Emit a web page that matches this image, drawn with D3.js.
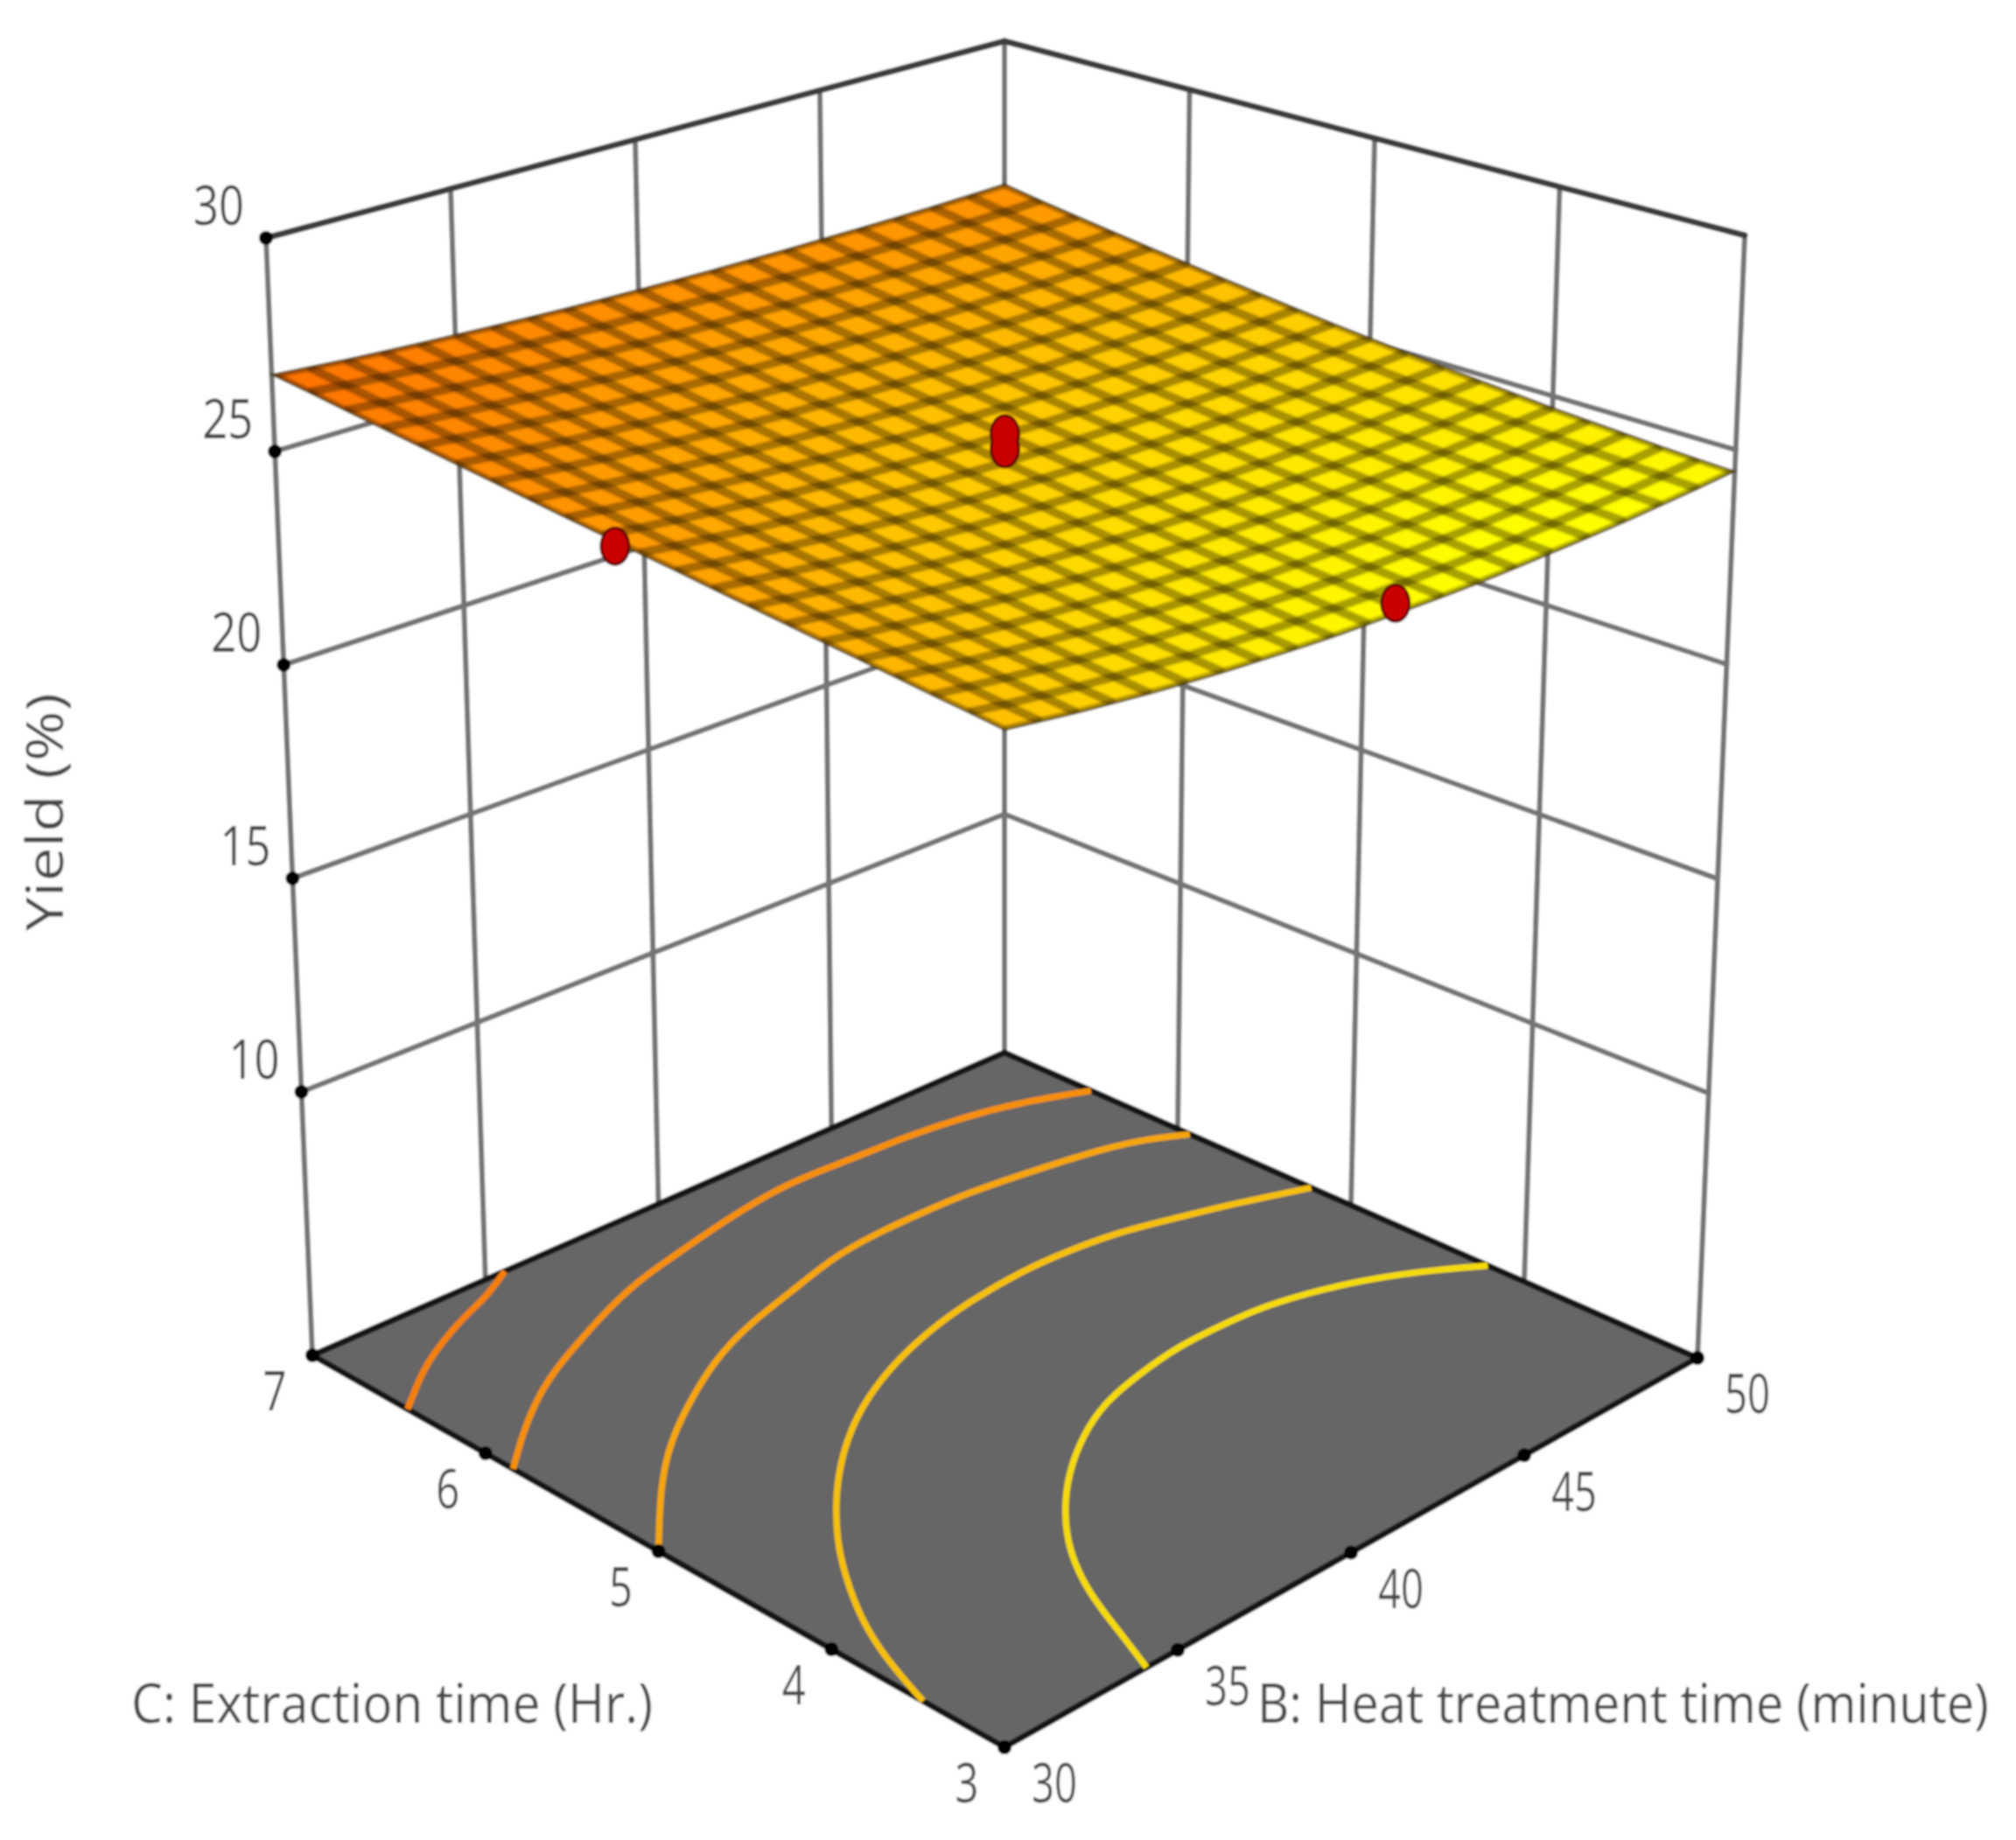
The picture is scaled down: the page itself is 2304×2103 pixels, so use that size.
<!DOCTYPE html>
<html>
<head>
<meta charset="utf-8">
<script src="https://cdn.jsdelivr.net/npm/d3@7"></script>
<style>
  body { margin: 0; background: #fff; }
  text { font-family: "Open Sans", sans-serif; font-weight: 500; fill: #484848; }
</style>
</head>
<body>
<div id="chart"></div>
<script>
// axis ticks
var bTicks = [30, 35, 40, 45, 50];
var cTicks = [3, 4, 5, 6, 7];
var zTicks = [10, 15, 20, 25, 30];
var zBottom = 3.83;

// Yield (%), one row per C step (3 to 7), one column per B step (30 to 50)
var yieldGrid = [
  [25.50,25.36,25.22,25.10,24.98,24.88,24.78,24.70,24.62,24.55,24.50,24.46,24.42,24.39,24.38,24.38,24.38,24.39,24.42,24.45,24.50],
  [25.56,25.41,25.28,25.15,25.04,24.94,24.84,24.76,24.68,24.61,24.56,24.51,24.48,24.45,24.43,24.42,24.43,24.44,24.46,24.49,24.53],
  [25.61,25.47,25.34,25.22,25.10,25.00,24.90,24.82,24.74,24.68,24.62,24.57,24.53,24.51,24.49,24.48,24.48,24.49,24.51,24.53,24.57],
  [25.67,25.53,25.40,25.28,25.17,25.06,24.97,24.88,24.81,24.74,24.68,24.64,24.60,24.57,24.55,24.54,24.53,24.54,24.56,24.58,24.62],
  [25.73,25.59,25.46,25.34,25.23,25.13,25.04,24.95,24.88,24.81,24.75,24.70,24.66,24.63,24.61,24.60,24.60,24.60,24.61,24.64,24.67],
  [25.79,25.65,25.53,25.41,25.30,25.20,25.11,25.02,24.95,24.88,24.82,24.78,24.74,24.70,24.68,24.67,24.66,24.66,24.68,24.70,24.72],
  [25.85,25.72,25.59,25.48,25.37,25.27,25.18,25.10,25.02,24.96,24.90,24.85,24.81,24.78,24.76,24.74,24.73,24.73,24.74,24.76,24.79],
  [25.91,25.78,25.66,25.55,25.44,25.34,25.25,25.17,25.10,25.04,24.98,24.93,24.89,24.86,24.83,24.82,24.81,24.81,24.82,24.83,24.86],
  [25.97,25.85,25.73,25.62,25.51,25.42,25.33,25.25,25.18,25.12,25.06,25.01,24.97,24.94,24.92,24.90,24.89,24.89,24.90,24.91,24.93],
  [26.04,25.91,25.80,25.69,25.59,25.50,25.41,25.33,25.26,25.20,25.15,25.10,25.06,25.03,25.00,24.99,24.98,24.97,24.98,24.99,25.01],
  [26.10,25.98,25.87,25.76,25.67,25.58,25.49,25.42,25.35,25.29,25.23,25.19,25.15,25.12,25.09,25.08,25.07,25.06,25.07,25.08,25.10],
  [26.17,26.05,25.94,25.84,25.75,25.66,25.58,25.50,25.44,25.38,25.33,25.28,25.24,25.21,25.19,25.17,25.16,25.16,25.16,25.17,25.19],
  [26.23,26.12,26.02,25.92,25.83,25.74,25.67,25.59,25.53,25.47,25.42,25.38,25.34,25.31,25.29,25.27,25.26,25.26,25.26,25.27,25.29],
  [26.30,26.19,26.09,26.00,25.91,25.83,25.75,25.69,25.63,25.57,25.52,25.48,25.44,25.42,25.39,25.38,25.37,25.37,25.37,25.38,25.40],
  [26.37,26.27,26.17,26.08,26.00,25.92,25.85,25.78,25.72,25.67,25.62,25.58,25.55,25.52,25.50,25.49,25.48,25.48,25.48,25.49,25.51],
  [26.44,26.34,26.25,26.16,26.08,26.01,25.94,25.88,25.82,25.77,25.73,25.69,25.66,25.64,25.62,25.60,25.59,25.59,25.60,25.61,25.63],
  [26.51,26.42,26.33,26.25,26.17,26.10,26.04,25.98,25.93,25.88,25.84,25.80,25.77,25.75,25.73,25.72,25.72,25.71,25.72,25.73,25.75],
  [26.58,26.49,26.41,26.33,26.26,26.20,26.14,26.08,26.03,25.99,25.95,25.92,25.89,25.87,25.86,25.85,25.84,25.84,25.85,25.86,25.88],
  [26.65,26.57,26.49,26.42,26.35,26.29,26.24,26.19,26.14,26.10,26.07,26.04,26.01,26.00,25.98,25.97,25.97,25.97,25.98,25.99,26.01],
  [26.73,26.65,26.58,26.51,26.45,26.39,26.34,26.30,26.25,26.22,26.19,26.16,26.14,26.12,26.11,26.11,26.11,26.11,26.12,26.13,26.15],
  [26.80,26.73,26.66,26.60,26.55,26.50,26.45,26.41,26.37,26.34,26.31,26.29,26.27,26.26,26.25,26.25,26.25,26.25,26.26,26.28,26.30]
];

// design points
var pointB = [30, 40, 40, 40.7];
var pointC = [5.13, 5, 5, 3];
var pointZ = [26.04, 25.9, 25.55, 24.73];

// contours on the floor, read as B / C pairs, inner one first
var contourLevels = [24.9, 25.4, 25.9, 26.3, 26.6];
var contourB = [
  [34.1,34.68,35.26,36.1,37.11,38.24,39.51,40.74,41.97,43.48,44.71,45.84,47.66,48.98,50],
  [30,30.54,31.24,32.18,33,34.26,35.58,37.02,38.64,40.21,41.72,43.38,44.6,46.06,47.32,48.26,50],
  [30,31.8,33.24,35,36.48,37.92,39.23,41.06,42.38,43.64,45.02,46.34,47.76,49.08,50],
  [30,31.12,32.4,33.58,34.42,35.76,37.33,38.86,40.56,42.61,44.18,45.8,47.28,48.62,50],
  [30,31.26,32,33,33.78,34.56,35.56]
];
var contourC = [
  [3,3.28,3.57,3.85,4.08,4.28,4.45,4.57,4.63,4.68,4.67,4.66,4.54,4.38,4.21],
  [3.47,3.79,4.08,4.36,4.57,4.83,5.05,5.24,5.39,5.49,5.55,5.58,5.57,5.53,5.44,5.38,5.23],
  [5,5.35,5.58,5.79,5.94,6.04,6.1,6.2,6.22,6.22,6.21,6.17,6.12,6.05,5.93],
  [5.84,6.01,6.18,6.3,6.37,6.48,6.59,6.65,6.72,6.78,6.75,6.74,6.7,6.63,6.5],
  [6.45,6.62,6.7,6.79,6.85,6.9,7]
];

var width = 2304, height = 2103;

var svg = d3.select("#chart").append("svg")
    .attr("width", width)
    .attr("height", height);

var defs = svg.append("defs");

// the reference is a soft upscaled bitmap
defs.append("filter").attr("id", "soft")
    .attr("x", 0).attr("y", 0).attr("width", 1).attr("height", 1)
    .append("feGaussianBlur").attr("stdDeviation", 1.3);
defs.append("filter").attr("id", "softer")
    .attr("filterUnits", "userSpaceOnUse")
    .attr("x", 0).attr("y", 0).attr("width", width).attr("height", height)
    .append("feGaussianBlur").attr("stdDeviation", 1.3);

var g = svg.append("g").attr("filter", "url(#soft)");
g.append("rect").attr("width", width).attr("height", height).attr("fill", "#fff");

var bScale = d3.scaleLinear().domain([30, 50]).range([0, 1]);
var cScale = d3.scaleLinear().domain([3, 7]).range([0, 1]);
var zScale = d3.scaleLinear().domain([zBottom, 30]).range([0, 1]);

// corners of the box on the page: front, right, left, back
var floorBox = [[1148, 1997], [1940, 1552], [357, 1549], [1148, 1203]];
var topBox = [[1148, 593], [1994, 269], [304, 272], [1148, 47]];

function bilinear(box, b, c, k) {
  return box[0][k]*(1-b)*(1-c) + box[1][k]*b*(1-c) + box[2][k]*(1-b)*c + box[3][k]*b*c;
}

function project(B, C, Z) {
  var b = bScale(B), c = cScale(C), h = zScale(Z);
  return [
    bilinear(floorBox, b, c, 0)*(1-h) + bilinear(topBox, b, c, 0)*h,
    bilinear(floorBox, b, c, 1)*(1-h) + bilinear(topBox, b, c, 1)*h
  ];
}

var line = d3.line();

function seg(p, q, color, w) {
  g.append("line")
      .attr("x1", p[0]).attr("y1", p[1])
      .attr("x2", q[0]).attr("y2", q[1])
      .attr("stroke", color)
      .attr("stroke-width", w)
      .attr("stroke-linecap", "round");
}

// walls
var gridColor = "#747474", topColor = "#3e3e3e";
bTicks.forEach(function(B) {
  seg(project(B, 7, zBottom), project(B, 7, 30), gridColor, 6);
});
cTicks.forEach(function(C) {
  seg(project(50, C, zBottom), project(50, C, 30), gridColor, 6);
});
zTicks.forEach(function(Z) {
  var color = Z == 30 ? topColor : gridColor;
  var w = Z == 30 ? 7 : 6;
  seg(project(30, 7, Z), project(50, 7, Z), color, w);
  seg(project(50, 7, Z), project(50, 3, Z), color, w);
});

// floor
g.append("path")
    .attr("d", line([project(30, 3, zBottom), project(50, 3, zBottom), project(50, 7, zBottom), project(30, 7, zBottom)]) + "Z")
    .attr("fill", "#666666")
    .attr("stroke", "#141414")
    .attr("stroke-width", 7)
    .attr("stroke-linejoin", "miter");

var colorScale = d3.scaleLinear().domain([24.4, 26.8])
    .range(["#ffff00", "#ff7000"]);

// contours
var contourLine = d3.line().curve(d3.curveBasis);
contourLevels.forEach(function(level, n) {
  var pts = contourB[n].map(function(B, i) {
    return project(B, contourC[n][i], zBottom);
  });
  g.append("path")
      .attr("d", contourLine(pts))
      .attr("fill", "none")
      .attr("stroke", d3.interpolateRgb(colorScale(level), "#999")(0.1))
      .attr("stroke-width", 7.5);
});

// surface
var nB = yieldGrid[0].length, nC = yieldGrid.length;
var bStep = 20/(nB-1), cStep = 4/(nC-1);

function meshPoint(i, j) {
  return project(30+i*bStep, 3+j*cStep, yieldGrid[j][i]);
}

var outline = [].concat(
  d3.range(nB).map(function(i) { return meshPoint(i, 0); }),
  d3.range(nC).map(function(j) { return meshPoint(nB-1, j); }),
  d3.range(nB).map(function(i) { return meshPoint(nB-1-i, nC-1); }),
  d3.range(nC).map(function(j) { return meshPoint(0, nC-1-j); })
);
defs.append("clipPath").attr("id", "surfaceClip")
    .append("path").attr("d", line(outline) + "Z");

var cells = [];
d3.range(nC-1).forEach(function(j) {
  d3.range(nB-1).forEach(function(i) {
    cells.push({i: i, j: j});
  });
});

function cellColor(d) {
  var i = d.i, j = d.j;
  return colorScale((yieldGrid[j][i]+yieldGrid[j][i+1]+yieldGrid[j+1][i+1]+yieldGrid[j+1][i])/4);
}

var surface = g.append("g").attr("clip-path", "url(#surfaceClip)")
    .append("g").attr("filter", "url(#softer)");
surface.selectAll("path.cell")
    .data(cells)
    .enter().append("path")
    .attr("class", "cell")
    .attr("d", function(d) {
      return line([meshPoint(d.i, d.j), meshPoint(d.i+1, d.j), meshPoint(d.i+1, d.j+1), meshPoint(d.i, d.j+1)]) + "Z";
    })
    .attr("fill", cellColor)
    .attr("stroke", cellColor);

// mesh lines, they darken where they cross
d3.range(nC).forEach(function(j) {
  surface.append("path")
      .attr("d", line(d3.range(nB).map(function(i) { return meshPoint(i, j); })))
      .attr("fill", "none").attr("stroke", "#1a1000")
      .attr("stroke-opacity", 0.38).attr("stroke-width", 10);
});
d3.range(nB).forEach(function(i) {
  surface.append("path")
      .attr("d", line(d3.range(nC).map(function(j) { return meshPoint(i, j); })))
      .attr("fill", "none").attr("stroke", "#1a1000")
      .attr("stroke-opacity", 0.38).attr("stroke-width", 10);
});

g.append("path")
    .attr("d", line(outline) + "Z")
    .attr("fill", "none")
    .attr("stroke", "#3a2c00")
    .attr("stroke-opacity", 0.55)
    .attr("stroke-width", 2.5);

// design points, outlines first so the overlapping pair reads as one mark
var pointPos = pointB.map(function(B, i) { return project(B, pointC[i], pointZ[i]); });
g.selectAll("ellipse.rim").data(pointPos).enter().append("ellipse")
    .attr("class", "rim")
    .attr("cx", function(p) { return p[0]; }).attr("cy", function(p) { return p[1]; })
    .attr("rx", 17.5).attr("ry", 22.5)
    .attr("fill", "#5a0000");
g.selectAll("ellipse.body").data(pointPos).enter().append("ellipse")
    .attr("class", "body")
    .attr("cx", function(p) { return p[0]; }).attr("cy", function(p) { return p[1]; })
    .attr("rx", 14.5).attr("ry", 19.5)
    .attr("fill", "#c80000");

// tick dots and labels
function dot(p, r) {
  g.append("circle").attr("cx", p[0]).attr("cy", p[1]).attr("r", r).attr("fill", "#000");
}

// squeezed to the measured width of the reference's narrow type
function label(x, y, txt, size, len, rot) {
  var t = g.append("text")
      .attr("dy", "0.36em")
      .attr("text-anchor", "middle")
      .attr("font-size", size)
      .text(txt);
  var sx = len/t.node().getComputedTextLength();
  t.attr("transform", "translate(" + x + "," + y + ") rotate(" + (rot || 0) + ") scale(" + sx + ",1)");
}

zTicks.forEach(function(Z) {
  var p = project(30, 7, Z);
  dot(p, 8);
  label(p[0]-54, p[1]-37, Z, 62, 58);
});
bTicks.forEach(function(B) {
  var p = project(B, 3, zBottom);
  dot(p, 8);
  label(p[0]+57, p[1]+41, B, 62, 52);
});
cTicks.forEach(function(C) {
  var p = project(30, C, zBottom);
  dot(p, 8);
  label(p[0]-43, p[1]+41, C, 62, 27);
});

label(448, 1947, "C: Extraction time (Hr.)", 62, 596);
label(1855, 1947, "B: Heat treatment time (minute)", 62, 836);
label(51, 928, "Yield (%)", 58, 272, -90);
</script>
</body>
</html>
